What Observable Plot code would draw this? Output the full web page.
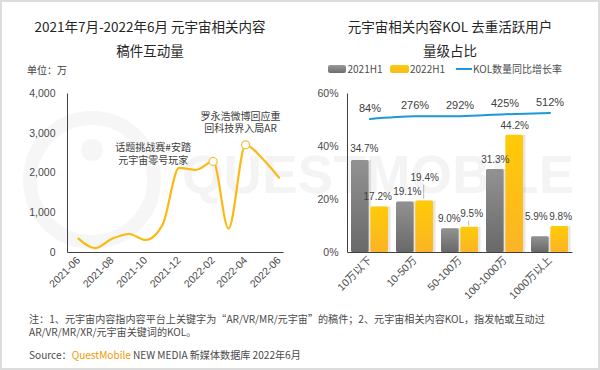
<!DOCTYPE html>
<html>
<head>
<meta charset="utf-8">
<script src="https://cdn.jsdelivr.net/npm/d3@7"></script>
<script src="https://cdn.jsdelivr.net/npm/@observablehq/plot@0.6"></script>
<style>
html, body { margin: 0; padding: 0; background: #fff; }
#root { position: relative; width: 600px; height: 370px; overflow: hidden; background: #fff;
  font-family: "Noto Sans CJK SC", "Noto Sans", sans-serif; color: #262626; }
.abs { position: absolute; white-space: nowrap; }
.title { width: 300px; text-align: center; top: 14px; font-size: 13.5px; line-height: 24px; color: #262626; }
.leg { font-size: 10px; line-height: 14px; top: 62px; color: #4d4d4d; font-family: "Noto Sans CJK SC", sans-serif; }
.foot { left: 29px; font-size: 10.1px; line-height: 12.4px; color: #4a4a4a; }
#border { position: absolute; left: 0; top: 0; width: 600px; height: 370px; box-sizing: border-box;
  border: 2px solid #dcdcdc; pointer-events: none; }
</style>
</head>
<body>
<div id="root">
  <svg class="abs" style="left:0;top:0" width="600" height="370">
    <circle cx="92" cy="180" r="62" fill="none" stroke="#f6f6f6" stroke-width="14"></circle>
    <circle cx="92" cy="150" r="11" fill="#f6f6f6"></circle>
    <text x="182" y="193" font-size="53" font-weight="bold" font-family="Liberation Sans, Arial, sans-serif"
      fill="#f4f4f4" textLength="392" lengthAdjust="spacing">QUESTMOBILE</text>
  </svg>

  <div class="abs title" style="left:0">2021年7月-2022年6月 元宇宙相关内容<br>稿件互动量</div>
  <div class="abs title" style="left:300px">元宇宙相关内容KOL 去重活跃用户<br>量级占比</div>
  <div class="abs" style="left:27px;top:63px;font-size:10px;line-height:14px;color:#404040">单位：万</div>

  <div class="abs" style="left:328px;top:65px;width:18px;height:8px;border-radius:2px;background:linear-gradient(#9a9a9a,#6e6e6e)"></div>
  <div class="abs leg" style="left:347.5px">2021H1</div>
  <div class="abs" style="left:390px;top:65px;width:19px;height:8px;border-radius:2px;background:linear-gradient(#ffcb08,#fcb822)"></div>
  <div class="abs leg" style="left:410px">2022H1</div>
  <div class="abs" style="left:456px;top:68px;width:16px;height:2px;background:#1e98d7"></div>
  <div class="abs leg" style="left:473px">KOL数量同比增长率</div>

  <div id="left" class="abs" style="left:0;top:80px"></div>
  <div id="right" class="abs" style="left:300px;top:80px"></div>

  <div class="abs foot" style="top:313px">注：1、元宇宙内容指内容平台上关键字为“AR/VR/MR/元宇宙”的稿件；2、元宇宙相关内容KOL，指发帖或互动过</div>
  <div class="abs foot" style="top:325.5px">AR/VR/MR/XR/元宇宙关键词的KOL。</div>
  <div class="abs foot" style="top:349px">Source：<span style="color:#f39800">QuestMobile</span><span style="margin-left:2px">NEW MEDIA 新媒体数据库 2022年6月</span></div>
  <div id="border"></div>
</div>

<script>
// ---------- Left chart data ----------
const months = ["2021-06","2021-07","2021-08","2021-09","2021-10","2021-11","2021-12",
                "2022-01","2022-02","2022-03","2022-04","2022-05","2022-06"];
const interactions = [350, 110, 345, 465, 315, 700, 2130, 2080, 2290, 600, 2710, 2370, 1880];
const leftTicks = ["2021-06","2021-08","2021-10","2021-12","2022-02","2022-04","2022-06"];
const leftYTicks = [0, 1000, 2000, 3000, 4000];
const calloutMonths = ["2022-02", "2022-04"];
const calloutTexts = ["话题挑战赛#安踏\n元宇宙零号玩家", "罗永浩微博回应重\n回科技界入局AR"];

// ---------- Right chart data ----------
const kolTiers = ["10万以下", "10-50万", "50-100万", "100-1000万", "1000万以上"];
const share2021 = [34.7, 19.1, 9.0, 31.3, 5.9];
const share2022 = [17.2, 19.4, 9.5, 44.2, 9.8];
const kolGrowth = [84, 276, 292, 425, 512];
const rightYTicks = [0, 20, 40, 60];

// ---------- Left chart ----------
const parseMonth = d3.utcParse("%Y-%m");
const parseDay = d3.utcParse("%Y-%m-%d");
const lineRows = months.map((m, i) => ({date: parseMonth(m), value: interactions[i]}));
const calloutRows = calloutMonths.map((m, i) => ({
  date: parseMonth(m), value: interactions[months.indexOf(m)], label: calloutTexts[i]
}));

const axisStyle = {background: "transparent", fontFamily: "'Liberation Sans', Arial, 'Noto Sans CJK SC', sans-serif",
  fontSize: "10.5px", color: "#4a4a4a", overflow: "visible"};

const LW = 300 - 67 - 17, LH = 225 - 13 - 53;
const left = Plot.plot({
  width: 300, height: 225,
  marginTop: 13, marginBottom: 53, marginLeft: 67, marginRight: 17,
  style: axisStyle,
  x: {type: "utc", domain: [parseDay("2021-05-12"), parseDay("2022-06-09")],
      ticks: leftTicks.map(parseMonth), tickFormat: d3.utcFormat("%Y-%m"),
      tickRotate: -45, tickSize: 0, tickPadding: 6, label: null},
  y: {domain: [0, 4000], ticks: leftYTicks, tickFormat: d3.format(","), tickSize: 0, tickPadding: 12, label: null},
  marks: [
    Plot.frame({stroke: "#404040", strokeDasharray: `0,${LW + LH},${LW + LH}`}),
    Plot.line(lineRows, {x: "date", y: "value", curve: "monotone-x", stroke: "#fdb913", strokeWidth: 2.2}),
    Plot.dot(calloutRows, {x: "date", y: "value", r: 4, fill: "white", stroke: "#f3c24a", strokeWidth: 1.3}),
    Plot.text(calloutRows.slice(0, 1), {x: "date", y: "value", text: "label", dx: -60, dy: -8,
      fontFamily: "Noto Sans CJK SC", fontSize: 10, lineHeight: 1.25, fill: "#404040"}),
    Plot.text(calloutRows.slice(1), {x: "date", y: "value", text: "label", dx: -5, dy: -23,
      fontFamily: "Noto Sans CJK SC", fontSize: 10, lineHeight: 1.25, fill: "#404040"})
  ]
});
document.getElementById("left").append(left);

// ---------- Right chart ----------
const rows2021 = kolTiers.map((t, i) => ({tier: t, value: share2021[i]}));
const rows2022 = kolTiers.map((t, i) => ({tier: t, value: share2022[i]}));
const growthRows = kolTiers.map((t, i) => ({tier: t, rate: kolGrowth[i]}));
// secondary (hidden) axis for the growth-rate line, expressed on the primary 0–60 scale
const rateAxis = d3.scaleLinear().domain([-9400, 1900]).range([0, 60]);

const RW = 300 - 47 - 28, RH = 225 - 13 - 53;
const band = (RW / kolTiers.length) * 0.82;
const inset = band / 2 + 0.9;
const barW = band - inset;
const off = band / 2 - barW / 2;

// label nudges (style only)
const nudge2021 = [[4, -2], [2, 0], [-1, 0], [0, 0], [-4, -10]];
const nudge2022 = [[-2, 0], [0, -13], [2, -3.5], [0, 0], [1, 0]];

const labelMarks = [];
rows2021.forEach((r, i) => labelMarks.push(Plot.text([r], {x: "tier", y: "value", text: d => d.value.toFixed(1) + "%",
  dx: -off + nudge2021[i][0], dy: -10 + nudge2021[i][1], fontSize: 10, fill: "#404040"})));
rows2022.forEach((r, i) => labelMarks.push(Plot.text([r], {x: "tier", y: "value", text: d => d.value.toFixed(1) + "%",
  dx: off + nudge2022[i][0], dy: -10 + nudge2022[i][1], fontSize: 10, fill: "#404040"})));

const right = Plot.plot({
  width: 300, height: 225,
  marginTop: 13, marginBottom: 53, marginLeft: 47, marginRight: 28,
  style: axisStyle,
  x: {type: "band", domain: kolTiers, paddingInner: 0.18, paddingOuter: 0.09,
      tickRotate: -45, tickSize: 0, tickPadding: 6, label: null},
  y: {domain: [0, 60], ticks: rightYTicks, tickFormat: d => d + "%", tickSize: 0, tickPadding: 9, label: null},
  marks: [
    Plot.barY(rows2021, {x: "tier", y: "value", insetRight: inset, fill: "#000", fillOpacity: 0.1, dx: 2.5}),
    Plot.barY(rows2022, {x: "tier", y: "value", insetLeft: inset, fill: "#000", fillOpacity: 0.1, dx: 2.5}),
    Plot.barY(rows2021, {x: "tier", y: "value", insetRight: inset, fill: "url(#gGray)", rx: 1.5}),
    Plot.barY(rows2022, {x: "tier", y: "value", insetLeft: inset, fill: "url(#gYellow)", rx: 1.5}),
    Plot.frame({stroke: "#404040", strokeDasharray: `0,${RW + RH},${RW + RH}`}),
    Plot.ruleX(rows2022.slice(1, 2), {x: "tier", y1: "value", y2: "value", dx: off - 1, insetTop: -16, insetBottom: 2, stroke: "#a6a6a6", strokeWidth: 0.8}),
    Plot.ruleX(rows2022.slice(2, 3), {x: "tier", y1: "value", y2: "value", dx: off - 1, insetTop: -6, insetBottom: 1.5, stroke: "#a6a6a6", strokeWidth: 0.8}),
    ...labelMarks,
    Plot.line(growthRows, {x: "tier", y: d => rateAxis(d.rate), curve: "monotone-x", stroke: "#1e98d7", strokeWidth: 2}),
    Plot.text(growthRows, {x: "tier", y: d => rateAxis(d.rate), text: d => d.rate + "%", dy: -11, fontSize: 11, fill: "#404040"})
  ]
});
const defs = d3.select(right).insert("defs", ":first-child");
const g1 = defs.append("linearGradient").attr("id", "gGray").attr("x1", 0).attr("y1", 0).attr("x2", 0).attr("y2", 1);
g1.append("stop").attr("offset", 0).attr("stop-color", "#929292");
g1.append("stop").attr("offset", 1).attr("stop-color", "#696969");
const g2 = defs.append("linearGradient").attr("id", "gYellow").attr("x1", 0).attr("y1", 0).attr("x2", 0).attr("y2", 1);
g2.append("stop").attr("offset", 0).attr("stop-color", "#ffcb05");
g2.append("stop").attr("offset", 1).attr("stop-color", "#fbb426");
document.getElementById("right").append(right);
</script>
</body>
</html>
